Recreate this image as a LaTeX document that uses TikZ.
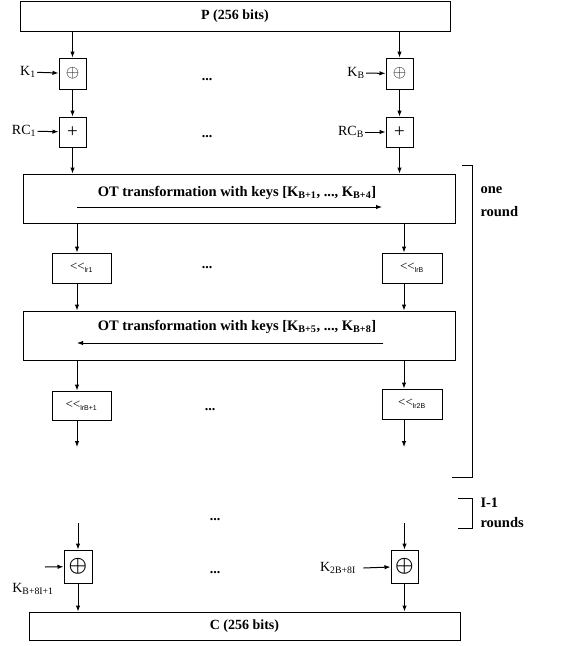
\documentclass[tikz,border=0pt]{standalone}
\usepackage{bm}
\usepackage{fontspec}
\setmainfont{Liberation Serif}
\newfontfamily\subsans{Liberation Sans}
\usetikzlibrary{arrows.meta}
\begin{document}
\begin{tikzpicture}[x=1pt,y=-1pt,
  line width=1pt,
  arr/.style={-{Latex[length=6pt,width=4.5pt]}},
  bigbox/.style={draw,rectangle,inner sep=0pt,font=\fontsize{14}{16}\selectfont\bfseries},
  ottxt/.style={inner sep=0pt,font=\fontsize{14.5}{16}\selectfont\bfseries},
  opbox/.style={draw,rectangle,inner sep=0pt,minimum width=27pt,minimum height=31pt,font=\fontsize{19}{20}\selectfont},
  shbox/.style={draw,rectangle,inner sep=0pt,minimum width=59pt,minimum height=30pt,font=\fontsize{13}{14}\selectfont},
  lbl/.style={inner sep=1pt,font=\fontsize{14}{16}\selectfont},
  dots/.style={inner sep=0pt,font=\fontsize{14}{16}\selectfont\bfseries},
  brk/.style={line width=1pt},
  rtxt/.style={anchor=west,inner sep=0pt,font=\fontsize{14.5}{16}\selectfont\bfseries}]
\useasboundingbox (0,0) rectangle (582,646);
\newcommand{\shl}[1]{<{}<\textsubscript{\subsans\fontsize{7}{8}\selectfont #1}}

% top block
\node[bigbox,minimum width=430pt,minimum height=30pt] (P) at (235,16) {P (256 bits)};
\node[opbox] (x1) at (72.5,73.5) {$\oplus$};
\node[opbox] (xB) at (399.5,73.5) {$\oplus$};
\node[opbox,minimum height=30pt] (a1) at (72.5,132) {+};
\node[opbox,minimum height=30pt] (aB) at (399.5,132) {+};
\node[lbl] (k1) at (28,72) {K\textsubscript{1}};
\node[lbl] (kB) at (356,73) {K\textsubscript{B}};
\node[lbl] (rc1) at (24,131) {RC\textsubscript{1}};
\node[lbl] (rcB) at (351,132) {RC\textsubscript{B}};
\node[dots] (d1) at (207,80) {...};
\node[dots] (d2) at (207,137) {...};

\draw[arr] (x1.north |- P.south) -- (x1);
\draw[arr] (xB.north |- P.south) -- (xB);
\draw[arr] (x1) -- (a1);
\draw[arr] (xB) -- (aB);
\draw[arr] (k1) -- (x1);
\draw[arr] (kB) -- (xB);
\draw[arr] (rc1) -- (a1);
\draw[arr] (rcB) -- (aB);

% first OT
\node[bigbox,minimum width=432pt,minimum height=49pt] (OT1) at (239,198.5) {};
\node[ottxt] (OT1t) at (237,193)
  {OT transformation with keys [K\textsubscript{B+1}, ..., K\textsubscript{B+4}]};
\coordinate (o1s) at (77,207);
\coordinate (o1e) at (382,207);
\draw[arr] (o1s) -- (o1e);
\draw[arr] (a1) -- (a1 |- OT1.north);
\draw[arr] (aB) -- (aB |- OT1.north);

\node[shbox] (s1) at (81.5,268) {\shl{lr1}};
\node[shbox,minimum width=60pt] (sB) at (412,268) {\shl{lrB}};
\node[dots] (d3) at (207,268) {...};
\draw[arr] ([xshift=-4.5pt]s1.north |- OT1.south) -- ([xshift=-4.5pt]s1.north);
\draw[arr] ([xshift=-8pt]sB.north |- OT1.south) -- ([xshift=-8pt]sB.north);

% second OT
\node[bigbox,minimum width=432pt,minimum height=49pt] (OT2) at (239,335.5) {};
\node[ottxt] (OT2t) at (237,327)
  {OT transformation with keys [K\textsubscript{B+5}, ..., K\textsubscript{B+8}]};
\coordinate (o2s) at (383,343);
\coordinate (o2e) at (77,343);
\draw[arr] (o2s) -- (o2e);
\draw[arr] ([xshift=-4.5pt]s1.south) -- ([xshift=-4.5pt]s1.south |- OT2.north);
\draw[arr] ([xshift=-8pt]sB.south) -- ([xshift=-8pt]sB.south |- OT2.north);

\node[shbox,minimum height=29pt] (t1) at (81.5,405.5) {\shl{lrB+1}};
\node[shbox,minimum width=60pt] (tB) at (412,404) {\shl{lr2B}};
\node[dots] (d4) at (210,410) {...};
\draw[arr] ([xshift=-4.5pt]t1.north |- OT2.south) -- ([xshift=-4.5pt]t1.north);
\draw[arr] ([xshift=-8pt]tB.north |- OT2.south) -- ([xshift=-8pt]tB.north);
\coordinate (t1e) at (77,447);
\coordinate (tBe) at (404,447);
\draw[arr] ([xshift=-4.5pt]t1.south) -- (t1e);
\draw[arr] ([xshift=-8pt]tB.south) -- (tBe);

% brackets
\draw[brk] (462,165) -- (472,165) -- (472,477) -- (452,477);
\node[rtxt] (one) at (480,190) {one};
\node[rtxt] (round) at (480,212) {round};
\draw[brk] (458,498) -- (472,498) -- (472,528) -- (458,528);
\node[rtxt] (i1) at (480,503) {I-1};
\node[rtxt] (rounds) at (480,523) {rounds};

% final
\node[dots] (d5) at (215,520) {...};
\node[opbox,minimum width=28pt,minimum height=33pt,font=\fontsize{20}{21}\selectfont] (f1) at (78,566.5) {$\bm{\oplus}$};
\node[opbox,minimum height=33pt,font=\fontsize{20}{21}\selectfont] (fB) at (404.5,566.5) {$\bm{\oplus}$};
\node[dots] (d6) at (215,573) {...};
\coordinate (f1in) at (78,523);
\coordinate (fBin) at (404.5,523);
\draw[arr] (f1in) -- (f1);
\draw[arr] (fBin) -- (fB);
\node[lbl] (kf1) at (33,589) {K\textsubscript{B+8I+1}};
\node[lbl] (kfB) at (338,568) {K\textsubscript{2B+8I}};
\coordinate (kf1a) at (45,567);
\draw[arr] (kf1a) -- (f1);
\draw[arr] ([xshift=6pt]kfB.east) -- (fB);

\node[bigbox,minimum width=431pt,minimum height=28pt] (C) at (244.5,626) {C (256 bits)};
\draw[arr] (f1) -- (f1 |- C.north);
\draw[arr] (fB) -- (fB |- C.north);
\end{tikzpicture}
\end{document}
